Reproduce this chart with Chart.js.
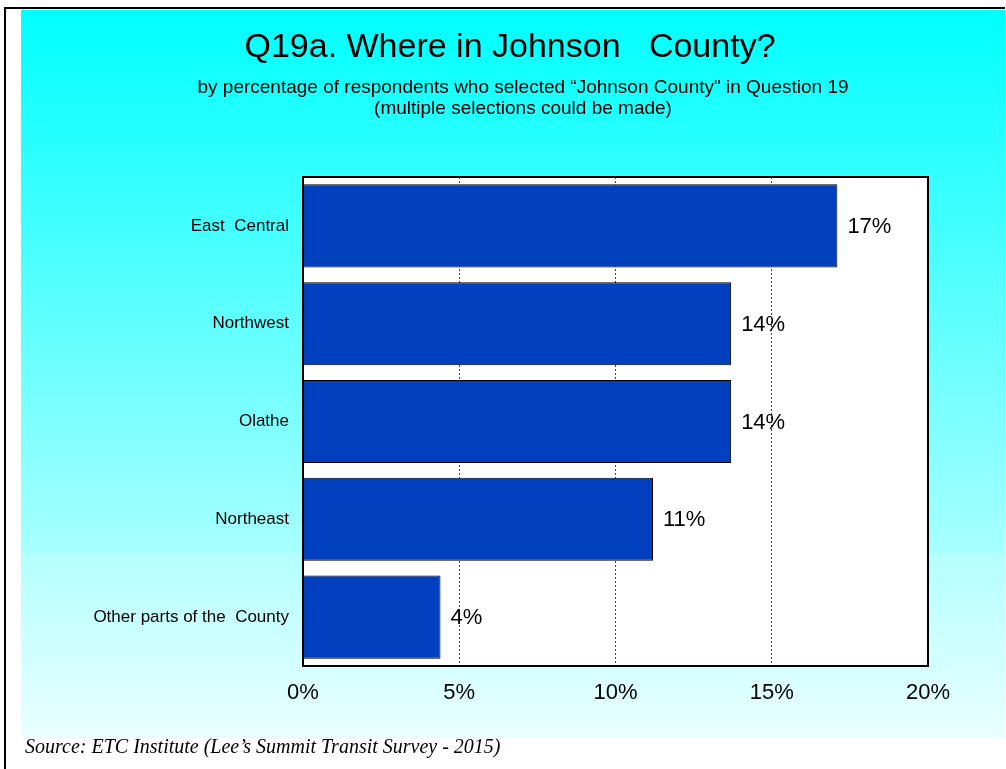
<!DOCTYPE html>
<html>
<head>
<meta charset="utf-8">
<script src="https://cdn.jsdelivr.net/npm/chart.js@4"></script>
<style>
  html, body { margin: 0; padding: 0; background: #fff; }
  #wrap { width: 1006px; height: 769px; position: relative; }
</style>
</head>
<body>
<div id="wrap"><canvas id="chart" width="1006" height="769"></canvas></div>
<script>
const categories = ['East  Central', 'Northwest', 'Olathe', 'Northeast', 'Other parts of the  County'];
const percents = [17.1, 13.7, 13.7, 11.2, 4.4];
const valueLabels = ['17%', '14%', '14%', '11%', '4%'];
const tickValues = [0, 5, 10, 15, 20];

const titleText = 'Q19a. Where in Johnson   County?';
const subtitleLines = [
  'by percentage of respondents who selected \u201cJohnson County" in Question 19',
  '(multiple selections could be made)'
];
const sourceText = 'Source: ETC Institute (Lee\u2019s Summit Transit Survey - 2015)';

const SANS = 'Arial, "Liberation Sans", sans-serif';

// background panel, plot area fill, titles and source
const decor = {
  id: 'decor',
  beforeDraw(chart) {
    const c = chart.ctx;
    const area = chart.chartArea;
    c.save();
    c.fillStyle = '#fff';
    c.fillRect(0, 0, chart.width, chart.height);
    const g = c.createLinearGradient(0, 10, 0, 738);
    g.addColorStop(0, '#00ffff');
    g.addColorStop(0.745, '#a8ffff');
    g.addColorStop(0.746, '#b4ffff');
    g.addColorStop(1, '#eaffff');
    c.fillStyle = g;
    c.fillRect(21, 10, 984, 728);
    c.fillStyle = '#000';
    c.fillRect(4, 7, 1001, 2);
    c.fillRect(4, 7, 2, chart.height - 7);
    c.fillStyle = '#fff';
    c.fillRect(area.left, area.top, area.right - area.left, area.bottom - area.top);

    c.fillStyle = '#000';
    c.textAlign = 'center';
    c.textBaseline = 'middle';
    c.font = '34px ' + SANS;
    c.fillText(titleText, 510, 48);
    c.font = '19px ' + SANS;
    c.fillText(subtitleLines[0], 523, 88);
    c.fillText(subtitleLines[1], 523, 109);

    c.textAlign = 'left';
    c.textBaseline = 'alphabetic';
    c.font = 'italic 20px "Times New Roman", "Liberation Serif", serif';
    c.fillText(sourceText, 25, 753);
    c.restore();
  },
  afterDatasetsDraw(chart) {
    const c = chart.ctx;
    const area = chart.chartArea;
    const meta = chart.getDatasetMeta(0);
    c.save();
    c.fillStyle = '#000';
    c.font = '22px ' + SANS;
    c.textAlign = 'left';
    c.textBaseline = 'middle';
    meta.data.forEach((bar, i) => {
      c.fillText(valueLabels[i], bar.x + 10, bar.y + 1);
    });
    c.strokeStyle = '#000';
    c.lineWidth = 2;
    c.strokeRect(area.left, area.top, area.right - area.left, area.bottom - area.top);
    c.restore();
  }
};

new Chart(document.getElementById('chart'), {
  type: 'bar',
  data: {
    labels: categories,
    datasets: [{
      data: percents,
      backgroundColor: '#0040bf',
      borderColor: '#000',
      borderWidth: 1,
      categoryPercentage: 0.85,
      barPercentage: 1.0
    }]
  },
  options: {
    indexAxis: 'y',
    responsive: false,
    animation: false,
    events: [],
    layout: { padding: { left: 0, right: 78, top: 177, bottom: 0 } },
    plugins: {
      legend: { display: false },
      tooltip: { enabled: false }
    },
    scales: {
      x: {
        min: 0,
        max: 20,
        afterBuildTicks: (scale) => { scale.ticks = tickValues.map(v => ({ value: v })); },
        afterFit: (scale) => { scale.height = 103; },
        border: { display: false, dash: [2, 2] },
        grid: {
          drawTicks: false,
          color: (ctx) => (ctx.tick && (ctx.tick.value === 0 || ctx.tick.value === 20)) ? 'rgba(0,0,0,0)' : '#444',
          lineWidth: 1
        },
        ticks: {
          padding: 14,
          color: '#000',
          font: { family: SANS, size: 22 },
          callback: (v) => v + '%'
        }
      },
      y: {
        afterFit: (scale) => { scale.width = 303; },
        border: { display: false },
        grid: { display: false, drawTicks: false },
        ticks: {
          padding: 14,
          color: '#000',
          font: { family: SANS, size: 17 }
        }
      }
    }
  },
  plugins: [decor]
});
</script>
</body>
</html>
